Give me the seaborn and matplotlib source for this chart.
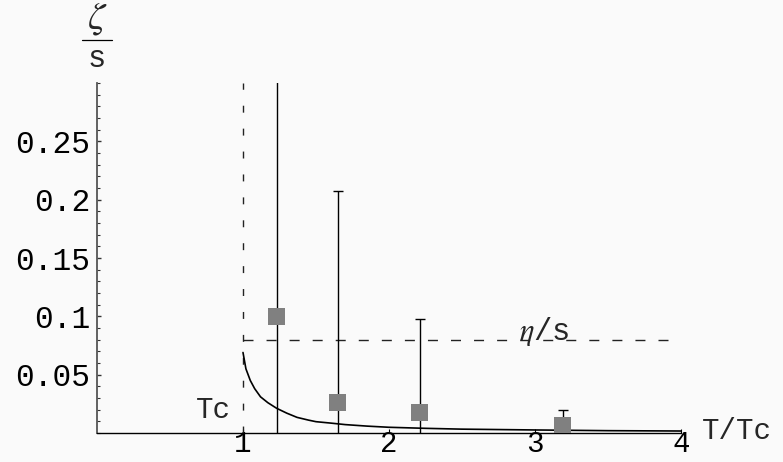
import numpy as np
import pandas as pd
import matplotlib
matplotlib.use("Agg")
import matplotlib.pyplot as plt
from matplotlib.lines import Line2D
from matplotlib.ticker import FixedLocator, FixedFormatter, MultipleLocator
import seaborn as sns

# Bulk viscosity over entropy density: model curve above Tc
curve_T = [1.0, 1.02, 1.05, 1.08, 1.12, 1.17, 1.23, 1.30, 1.37, 1.45, 1.50,
           1.60, 1.70, 1.85, 2.0, 2.25, 2.5, 3.0, 3.5, 4.0]
curve_zeta = [0.069, 0.055, 0.045, 0.038, 0.031, 0.026, 0.0212, 0.017, 0.0134,
              0.011, 0.0097, 0.0085, 0.0072, 0.0059, 0.0049, 0.0040, 0.0033,
              0.0026, 0.0020, 0.0017]

# Lattice estimates with symmetric errors
lat_T = [1.23, 1.65, 2.21, 3.19]
lat_zeta = [0.100, 0.0263, 0.0177, 0.0060]
lat_err = [0.25, 0.181, 0.080, 0.0137]

# Reference values
eta_over_s = 0.08
tc_value = 1.0

y_ticks = [0.05, 0.10, 0.15, 0.20, 0.25]
y_tick_labels = ["0.05", "0.1", "0.15", "0.2", "0.25"]
x_ticks = [1, 2, 3, 4]
x_tick_labels = ["1", "2", "3", "4"]

sns.set_theme(style="ticks")
plt.rcParams["font.family"] = ["Liberation Mono", "DejaVu Sans"]
plt.rcParams["mathtext.fontset"] = "stix"

W, H = 783, 462
fig = plt.figure(figsize=(W / 100, H / 100), dpi=100)
bg = "#fafafa"
fig.patch.set_facecolor(bg)

x0, x1 = 97, 681
y0, y1 = 433, 83
ax = fig.add_axes([x0 / W, 1 - y0 / H, (x1 - x0) / W, (y0 - y1) / H])
ax.set_facecolor(bg)
ax.set_xlim(0, 4)
ax.set_ylim(0, 0.30)

curve_df = pd.DataFrame({"T": curve_T, "zeta": curve_zeta})
lat_df = pd.DataFrame({"T": lat_T, "zeta": lat_zeta, "err": lat_err})

# reference lines
ax.plot([tc_value, tc_value], [0, 0.30], color="#222222", lw=1.0,
        dashes=(5, 11.5), zorder=1)
ax.plot([tc_value, 4], [eta_over_s, eta_over_s], color="#222222", lw=1.0,
        dashes=(7.2, 9.4), zorder=1)

sns.lineplot(data=curve_df, x="T", y="zeta", ax=ax, color="black", lw=1.2,
             zorder=2, legend=False)

ax.errorbar(lat_df["T"], lat_df["zeta"], yerr=lat_df["err"], fmt="none",
            ecolor="black", elinewidth=1.0, capsize=3.6, capthick=1.0, zorder=3)
sns.scatterplot(data=lat_df, x="T", y="zeta", ax=ax, marker="s", s=150,
                color="#808080", edgecolor="none", linewidth=0, zorder=4,
                legend=False)

ax.set_xlabel("")
ax.set_ylabel("")

for side in ("top", "right"):
    ax.spines[side].set_visible(False)
ax.spines["left"].set_color("#555555")
ax.spines["left"].set_linewidth(1.3)
ax.spines["bottom"].set_color("black")
ax.spines["bottom"].set_linewidth(1.0)

ax.yaxis.set_major_locator(FixedLocator(y_ticks))
ax.yaxis.set_major_formatter(FixedFormatter(y_tick_labels))
ax.yaxis.set_minor_locator(MultipleLocator(0.01))
ax.xaxis.set_major_locator(FixedLocator(x_ticks))
ax.xaxis.set_major_formatter(FixedFormatter(x_tick_labels))

ax.tick_params(axis="y", which="major", direction="in", length=3, width=1,
               color="#333333", labelsize=22.5, pad=5, labelcolor="black")
ax.tick_params(axis="y", which="minor", direction="in", length=2, width=0.8,
               color="#333333")
ax.tick_params(axis="x", which="major", direction="in", length=3, width=0.8,
               color="black", labelsize=21, pad=-2, labelcolor="black")

# annotations
ax.text(0.795, 0.0197, "Tc", fontsize=21, ha="center", va="center")
ax.text(3.06, 0.0866, r"$\eta$/s", fontsize=22, ha="center", va="center")
fig.text(702 / W, 1 - 431 / H, "T/Tc", fontsize=21, ha="left", va="center")

# zeta / s fraction label above the y axis
fig.text(97 / W, 1 - 19 / H, r"$\zeta$", fontsize=28, ha="center", va="center")
fig.add_artist(Line2D([82 / W, 112 / W], [1 - 40 / H, 1 - 40 / H],
                      color="black", lw=0.9))
fig.text(97 / W, 1 - 59 / H, "s", fontsize=22, ha="center", va="center")

fig.savefig("out.png", dpi=100, facecolor=bg)
